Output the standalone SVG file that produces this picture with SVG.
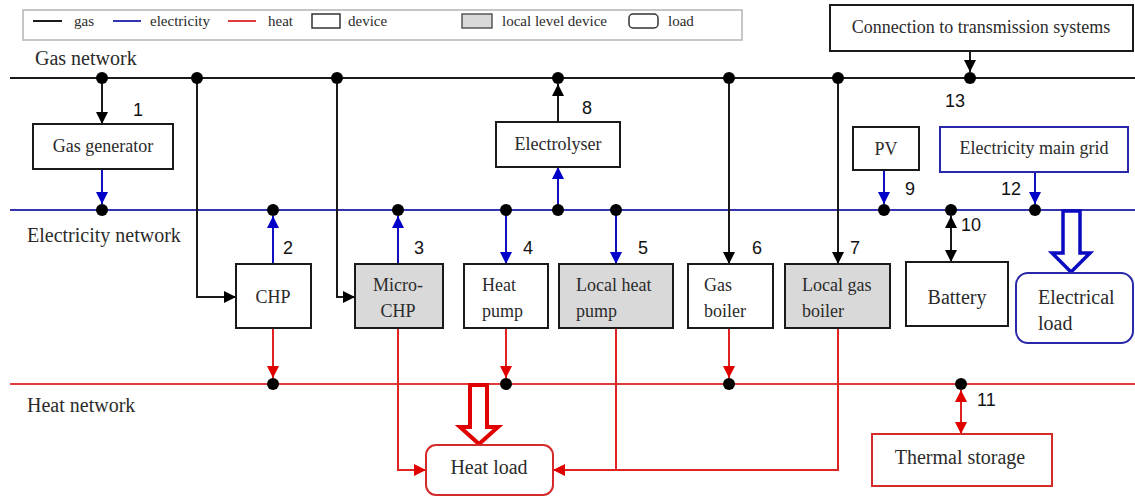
<svg xmlns="http://www.w3.org/2000/svg" width="1135" height="497" viewBox="0 0 1135 497" font-family="'Liberation Serif', 'DejaVu Serif', serif">
  <style>
    .t { font-family: 'Liberation Serif', 'DejaVu Serif', 'Times New Roman', serif; fill: #2b2b2b; }
    .num { font-family: 'Liberation Sans', Arial, sans-serif; font-size: 18px; fill: #111; }
    .dev { font-size: 18px; }
    .big { font-size: 20px; }
    .leg { font-size: 15px; }
    .box { fill: #fff; stroke: #1a1a1a; stroke-width: 2; }
    .local { fill: #d9d9d9; stroke: #1a1a1a; stroke-width: 2; }
    .bbox { fill: #fff; stroke: #2828a8; stroke-width: 2; }
    .rbox { fill: #fff; stroke: #d42a2a; stroke-width: 2; }
    .g { fill: none; stroke: #1a1a1a; stroke-width: 2; }
    .e { fill: none; stroke: #1010c0; stroke-width: 2; }
    .h { fill: none; stroke: #e02222; stroke-width: 2; }
    .gnet { stroke: #1a1a1a; stroke-width: 2; }
    .enet { stroke: #3434b0; stroke-width: 2; }
    .hnet { stroke: #e03a3a; stroke-width: 2; }
    .dot { fill: #000; }
  </style>
  <defs>
    <marker id="ak" markerUnits="userSpaceOnUse" markerWidth="12" markerHeight="12" refX="12" refY="6" orient="auto-start-reverse">
      <path d="M0,0 L12,6 L0,12 z" fill="#000"/>
    </marker>
    <marker id="ab" markerUnits="userSpaceOnUse" markerWidth="12" markerHeight="12" refX="12" refY="6" orient="auto-start-reverse">
      <path d="M0,0 L12,6 L0,12 z" fill="#0000c8"/>
    </marker>
    <marker id="ar" markerUnits="userSpaceOnUse" markerWidth="12" markerHeight="12" refX="12" refY="6" orient="auto-start-reverse">
      <path d="M0,0 L12,6 L0,12 z" fill="#e00000"/>
    </marker>
  </defs>
  <rect width="1135" height="497" fill="#fff"/>

  <!-- legend -->
  <g id="legend">
    <rect x="23" y="10" width="719" height="30" fill="#fff" stroke="#b4b4b4" stroke-width="1.5"/>
    <line x1="33" y1="21" x2="62" y2="21" class="gnet"/>
    <text x="74" y="26" class="t leg">gas</text>
    <line x1="113" y1="21" x2="141" y2="21" class="enet"/>
    <text x="150" y="26" class="t leg">electricity</text>
    <line x1="228" y1="21" x2="256" y2="21" class="hnet"/>
    <text x="268" y="26" class="t leg">heat</text>
    <rect x="312" y="14" width="28" height="14" fill="#fff" stroke="#333" stroke-width="1.5"/>
    <text x="348" y="26" class="t leg">device</text>
    <rect x="462" y="14" width="30" height="14" fill="#d9d9d9" stroke="#555" stroke-width="1.5"/>
    <text x="502" y="26" class="t leg">local level device</text>
    <rect x="629" y="14" width="29" height="14" rx="4" fill="#fff" stroke="#333" stroke-width="1.5"/>
    <text x="668" y="26" class="t leg">load</text>
  </g>

  <!-- network busbars -->
  <g id="networks">
    <line x1="10" y1="78" x2="1135" y2="78" class="gnet"/>
    <text x="35" y="65" class="t big">Gas network</text>
    <line x1="10" y1="210" x2="1135" y2="210" class="enet"/>
    <text x="27" y="242" class="t big">Electricity network</text>
    <line x1="10" y1="384" x2="1135" y2="384" class="hnet"/>
    <text x="27" y="412" class="t big">Heat network</text>
  </g>

  <!-- connectors -->
  <g id="connectors">
    <!-- gas -->
    <path d="M102,78 V124" class="g" marker-end="url(#ak)"/>
    <path d="M558,122 V84" class="g" marker-end="url(#ak)"/>
    <path d="M197,78 V297 H236" class="g" marker-end="url(#ak)"/>
    <path d="M337,78 V297 H355" class="g" marker-end="url(#ak)"/>
    <path d="M729,78 V264" class="g" marker-end="url(#ak)"/>
    <path d="M838,78 V264" class="g" marker-end="url(#ak)"/>
    <path d="M970,51 V72" class="g" marker-end="url(#ak)"/>
    <path d="M951,216 V262" class="g" marker-start="url(#ak)" marker-end="url(#ak)"/>
    <!-- electricity -->
    <path d="M102,169 V204" class="e" marker-end="url(#ab)"/>
    <path d="M273,264 V216" class="e" marker-end="url(#ab)"/>
    <path d="M398,264 V216" class="e" marker-end="url(#ab)"/>
    <path d="M506,210 V264" class="e" marker-end="url(#ab)"/>
    <path d="M616,210 V264" class="e" marker-end="url(#ab)"/>
    <path d="M558,210 V167" class="e" marker-end="url(#ab)"/>
    <path d="M884,170 V204" class="e" marker-end="url(#ab)"/>
    <path d="M1035,172 V204" class="e" marker-end="url(#ab)"/>
    <!-- heat -->
    <path d="M273,328 V378" class="h" marker-end="url(#ar)"/>
    <path d="M506,328 V378" class="h" marker-end="url(#ar)"/>
    <path d="M729,328 V378" class="h" marker-end="url(#ar)"/>
    <path d="M398,328 V470 H426" class="h" marker-end="url(#ar)"/>
    <path d="M616,328 V470 H553" class="h" marker-end="url(#ar)"/>
    <path d="M838,328 V470 H616" class="h"/>
    <path d="M961,390 V434" class="h" marker-start="url(#ar)" marker-end="url(#ar)"/>
    <!-- hollow load arrows -->
    <path d="M1063,211 H1080 V253 H1090 L1071,272 L1052,253 H1063 Z" fill="#fff" stroke="#0a0ac0" stroke-width="3.5" stroke-linejoin="miter"/>
    <path d="M470,385 H487 V427 H498 L479,444 L460,427 H470 Z" fill="#fff" stroke="#e00000" stroke-width="4" stroke-linejoin="miter"/>
  </g>

  <!-- junction dots -->
  <g id="junctions" class="dot">
    <circle cx="102" cy="78" r="6"/>
    <circle cx="197" cy="78" r="6"/>
    <circle cx="337" cy="78" r="6"/>
    <circle cx="558" cy="78" r="6"/>
    <circle cx="729" cy="78" r="6"/>
    <circle cx="838" cy="78" r="6"/>
    <circle cx="970" cy="78" r="6"/>
    <circle cx="102" cy="210" r="6"/>
    <circle cx="273" cy="210" r="6"/>
    <circle cx="398" cy="210" r="6"/>
    <circle cx="506" cy="210" r="6"/>
    <circle cx="558" cy="210" r="6"/>
    <circle cx="616" cy="210" r="6"/>
    <circle cx="884" cy="210" r="6"/>
    <circle cx="951" cy="210" r="6"/>
    <circle cx="1035" cy="210" r="6"/>
    <circle cx="273" cy="384" r="6"/>
    <circle cx="506" cy="384" r="6"/>
    <circle cx="729" cy="384" r="6"/>
    <circle cx="961" cy="384" r="6"/>
  </g>

  <!-- numbering -->
  <g id="labels">
    <text x="133" y="116" class="num">1</text>
    <text x="283" y="254" class="num">2</text>
    <text x="414" y="254" class="num">3</text>
    <text x="523" y="254" class="num">4</text>
    <text x="638" y="254" class="num">5</text>
    <text x="752" y="254" class="num">6</text>
    <text x="850" y="254" class="num">7</text>
    <text x="582" y="114" class="num">8</text>
    <text x="905" y="195" class="num">9</text>
    <text x="961" y="231" class="num">10</text>
    <text x="977" y="406" class="num">11</text>
    <text x="1001" y="195" class="num">12</text>
    <text x="945" y="107" class="num">13</text>
  </g>

  <!-- devices -->
  <g id="gas-generator">
    <rect x="33" y="124" width="140" height="45" class="box"/>
    <text x="103" y="152" class="t dev" text-anchor="middle">Gas generator</text>
  </g>
  <g id="electrolyser">
    <rect x="496" y="122" width="124" height="45" class="box"/>
    <text x="558" y="150" class="t dev" text-anchor="middle">Electrolyser</text>
  </g>
  <g id="chp">
    <rect x="236" y="264" width="75" height="64" class="box"/>
    <text x="273" y="303" class="t dev" text-anchor="middle">CHP</text>
  </g>
  <g id="micro-chp">
    <rect x="355" y="264" width="88" height="64" class="local"/>
    <text x="398" y="291" class="t dev" text-anchor="middle">Micro-</text>
    <text x="398" y="317" class="t dev" text-anchor="middle">CHP</text>
  </g>
  <g id="heat-pump">
    <rect x="464" y="264" width="84" height="64" class="box"/>
    <text x="482" y="291" class="t dev">Heat</text>
    <text x="482" y="317" class="t dev">pump</text>
  </g>
  <g id="local-heat-pump">
    <rect x="559" y="264" width="114" height="64" class="local"/>
    <text x="576" y="291" class="t dev">Local heat</text>
    <text x="576" y="317" class="t dev">pump</text>
  </g>
  <g id="gas-boiler">
    <rect x="688" y="264" width="85" height="64" class="box"/>
    <text x="704" y="291" class="t dev">Gas</text>
    <text x="704" y="317" class="t dev">boiler</text>
  </g>
  <g id="local-gas-boiler">
    <rect x="785" y="264" width="105" height="64" class="local"/>
    <text x="802" y="291" class="t dev">Local gas</text>
    <text x="802" y="317" class="t dev">boiler</text>
  </g>
  <g id="pv">
    <rect x="853" y="127" width="66" height="43" class="box"/>
    <text x="886" y="155" class="t dev" text-anchor="middle">PV</text>
  </g>
  <g id="main-grid">
    <rect x="940" y="127" width="188" height="45" class="bbox"/>
    <text x="1034" y="154" class="t dev" text-anchor="middle">Electricity main grid</text>
  </g>
  <g id="battery">
    <rect x="906" y="262" width="102" height="64" class="box"/>
    <text x="957" y="304" class="t big" text-anchor="middle">Battery</text>
  </g>
  <g id="transmission">
    <rect x="830" y="5" width="303" height="46" class="box"/>
    <text x="981" y="33" class="t dev" text-anchor="middle">Connection to transmission systems</text>
  </g>

  <!-- loads and storage -->
  <g id="electrical-load">
    <rect x="1016" y="273" width="117" height="70" rx="12" class="bbox"/>
    <text x="1038" y="304" class="t big">Electrical</text>
    <text x="1038" y="330" class="t big">load</text>
  </g>
  <g id="heat-load">
    <rect x="426" y="445" width="127" height="50" rx="10" class="rbox"/>
    <text x="489" y="474" class="t big" text-anchor="middle">Heat load</text>
  </g>
  <g id="thermal-storage">
    <rect x="872" y="434" width="180" height="52" class="rbox"/>
    <text x="960" y="464" class="t big" text-anchor="middle">Thermal storage</text>
  </g>
</svg>
